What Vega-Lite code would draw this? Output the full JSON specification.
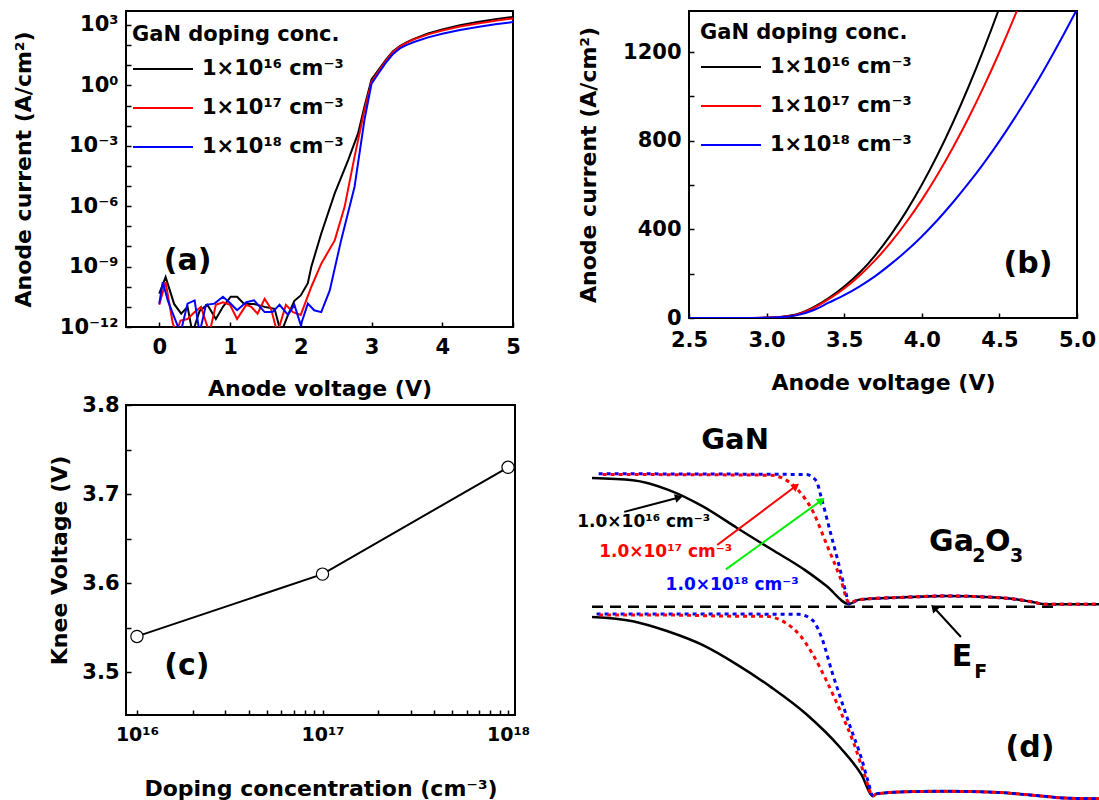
{
  "$schema": "https://vega.github.io/schema/vega-lite/v6.json",
  "background": "white",
  "padding": {"left": 11, "top": 10, "right": 0, "bottom": 0},
  "spacing": 45,
  "resolve": {"scale": {"color": "independent"}, "legend": {"color": "independent"}},
  "datasets": {
    "iv_log": [
      {"d": "1e16", "V": 0, "J": 4.6e-11}, {"d": "1e16", "V": 0.09, "J": 3.0e-10}, {"d": "1e16", "V": 0.21, "J": 1.4e-11}, {"d": "1e16", "V": 0.31, "J": 4.6e-12}, {"d": "1e16", "V": 0.4, "J": 1.0e-11}, {"d": "1e16", "V": 0.47, "J": 5e-13}, {"d": "1e16", "V": 0.57, "J": 6.3e-12}, {"d": "1e16", "V": 0.68, "J": 1.26e-11}, {"d": "1e16", "V": 0.8, "J": 2.5e-12}, {"d": "1e16", "V": 0.9, "J": 1.0e-11}, {"d": "1e16", "V": 1.01, "J": 3.2e-11}, {"d": "1e16", "V": 1.1, "J": 3.2e-11}, {"d": "1e16", "V": 1.2, "J": 1.4e-11}, {"d": "1e16", "V": 1.34, "J": 1.4e-11}, {"d": "1e16", "V": 1.49, "J": 1.0e-11}, {"d": "1e16", "V": 1.63, "J": 8e-12}, {"d": "1e16", "V": 1.72, "J": 5e-13}, {"d": "1e16", "V": 1.82, "J": 4e-12}, {"d": "1e16", "V": 1.91, "J": 2e-11}, {"d": "1e16", "V": 2.0, "J": 3.7e-11}, {"d": "1e16", "V": 2.1, "J": 1.5e-10}, {"d": "1e16", "V": 2.15, "J": 1e-9}, {"d": "1e16", "V": 2.29, "J": 4.4e-8}, {"d": "1e16", "V": 2.48, "J": 4.3e-6}, {"d": "1e16", "V": 2.67, "J": 1.95e-4}, {"d": "1e16", "V": 2.81, "J": 4.1e-3}, {"d": "1e16", "V": 2.9, "J": 8.7e-2}, {"d": "1e16", "V": 3.0, "J": 2}, {"d": "1e16", "V": 3.1, "J": 6}, {"d": "1e16", "V": 3.2, "J": 18}, {"d": "1e16", "V": 3.3, "J": 48}, {"d": "1e16", "V": 3.4, "J": 90}, {"d": "1e16", "V": 3.5, "J": 142}, {"d": "1e16", "V": 3.6, "J": 205}, {"d": "1e16", "V": 3.8, "J": 375}, {"d": "1e16", "V": 4.0, "J": 601}, {"d": "1e16", "V": 4.25, "J": 960}, {"d": "1e16", "V": 4.5, "J": 1400}, {"d": "1e16", "V": 4.75, "J": 1950}, {"d": "1e16", "V": 5.0, "J": 2530},
      {"d": "1e17", "V": 0, "J": 1.26e-11}, {"d": "1e17", "V": 0.09, "J": 1.7e-10}, {"d": "1e17", "V": 0.19, "J": 1.6e-12}, {"d": "1e17", "V": 0.24, "J": 5e-13}, {"d": "1e17", "V": 0.3, "J": 2.1e-12}, {"d": "1e17", "V": 0.4, "J": 2.5e-12}, {"d": "1e17", "V": 0.5, "J": 5.5e-12}, {"d": "1e17", "V": 0.59, "J": 1e-11}, {"d": "1e17", "V": 0.71, "J": 5e-13}, {"d": "1e17", "V": 0.8, "J": 1.26e-11}, {"d": "1e17", "V": 0.9, "J": 1.7e-11}, {"d": "1e17", "V": 1.0, "J": 1.26e-11}, {"d": "1e17", "V": 1.1, "J": 2.5e-12}, {"d": "1e17", "V": 1.23, "J": 1.26e-11}, {"d": "1e17", "V": 1.3, "J": 1e-11}, {"d": "1e17", "V": 1.39, "J": 4.6e-12}, {"d": "1e17", "V": 1.49, "J": 2.5e-11}, {"d": "1e17", "V": 1.58, "J": 8e-12}, {"d": "1e17", "V": 1.67, "J": 5e-13}, {"d": "1e17", "V": 1.79, "J": 1.26e-11}, {"d": "1e17", "V": 1.89, "J": 5.5e-12}, {"d": "1e17", "V": 2.0, "J": 4e-12}, {"d": "1e17", "V": 2.15, "J": 1e-10}, {"d": "1e17", "V": 2.29, "J": 1.4e-9}, {"d": "1e17", "V": 2.48, "J": 2e-8}, {"d": "1e17", "V": 2.62, "J": 9.3e-7}, {"d": "1e17", "V": 2.76, "J": 2.8e-4}, {"d": "1e17", "V": 2.9, "J": 5.9e-2}, {"d": "1e17", "V": 3.0, "J": 1.5}, {"d": "1e17", "V": 3.1, "J": 5}, {"d": "1e17", "V": 3.2, "J": 16}, {"d": "1e17", "V": 3.3, "J": 44}, {"d": "1e17", "V": 3.4, "J": 85}, {"d": "1e17", "V": 3.5, "J": 133}, {"d": "1e17", "V": 3.6, "J": 192}, {"d": "1e17", "V": 3.8, "J": 341}, {"d": "1e17", "V": 4.0, "J": 533}, {"d": "1e17", "V": 4.25, "J": 833}, {"d": "1e17", "V": 4.5, "J": 1199}, {"d": "1e17", "V": 4.75, "J": 1630}, {"d": "1e17", "V": 5.0, "J": 2130},
      {"d": "1e18", "V": 0, "J": 1.45e-11}, {"d": "1e18", "V": 0.05, "J": 1.7e-10}, {"d": "1e18", "V": 0.12, "J": 2.1e-11}, {"d": "1e18", "V": 0.21, "J": 3.2e-12}, {"d": "1e18", "V": 0.3, "J": 5e-13}, {"d": "1e18", "V": 0.4, "J": 1.45e-11}, {"d": "1e18", "V": 0.5, "J": 2.1e-11}, {"d": "1e18", "V": 0.57, "J": 5e-13}, {"d": "1e18", "V": 0.66, "J": 1.26e-11}, {"d": "1e18", "V": 0.78, "J": 1.45e-11}, {"d": "1e18", "V": 0.9, "J": 3.2e-11}, {"d": "1e18", "V": 0.99, "J": 1.7e-11}, {"d": "1e18", "V": 1.1, "J": 6.8e-12}, {"d": "1e18", "V": 1.23, "J": 1.7e-11}, {"d": "1e18", "V": 1.34, "J": 2.1e-11}, {"d": "1e18", "V": 1.49, "J": 5.5e-12}, {"d": "1e18", "V": 1.6, "J": 5.5e-12}, {"d": "1e18", "V": 1.7, "J": 1.26e-11}, {"d": "1e18", "V": 1.82, "J": 4e-12}, {"d": "1e18", "V": 1.91, "J": 1.26e-11}, {"d": "1e18", "V": 2.0, "J": 1.26e-12}, {"d": "1e18", "V": 2.1, "J": 1.45e-11}, {"d": "1e18", "V": 2.19, "J": 6.8e-12}, {"d": "1e18", "V": 2.29, "J": 5.5e-12}, {"d": "1e18", "V": 2.41, "J": 6.6e-11}, {"d": "1e18", "V": 2.57, "J": 2e-8}, {"d": "1e18", "V": 2.76, "J": 9e-6}, {"d": "1e18", "V": 2.9, "J": 1.9e-2}, {"d": "1e18", "V": 3.0, "J": 1.2}, {"d": "1e18", "V": 3.1, "J": 4}, {"d": "1e18", "V": 3.2, "J": 13}, {"d": "1e18", "V": 3.3, "J": 35}, {"d": "1e18", "V": 3.4, "J": 69}, {"d": "1e18", "V": 3.5, "J": 103}, {"d": "1e18", "V": 3.6, "J": 143}, {"d": "1e18", "V": 3.8, "J": 243}, {"d": "1e18", "V": 4.0, "J": 368}, {"d": "1e18", "V": 4.25, "J": 560}, {"d": "1e18", "V": 4.5, "J": 798}, {"d": "1e18", "V": 4.75, "J": 1075}, {"d": "1e18", "V": 5.0, "J": 1393}
    ],
    "iv_lin": [
      {"d": "1e16", "V": 2.5, "J": 0}, {"d": "1e16", "V": 2.6, "J": 0}, {"d": "1e16", "V": 2.7, "J": 0.02}, {"d": "1e16", "V": 2.8, "J": 0.1}, {"d": "1e16", "V": 2.9, "J": 0.5}, {"d": "1e16", "V": 3.0, "J": 2}, {"d": "1e16", "V": 3.1, "J": 6}, {"d": "1e16", "V": 3.2, "J": 18}, {"d": "1e16", "V": 3.3, "J": 48}, {"d": "1e16", "V": 3.4, "J": 90}, {"d": "1e16", "V": 3.5, "J": 142}, {"d": "1e16", "V": 3.6, "J": 205}, {"d": "1e16", "V": 3.7, "J": 283}, {"d": "1e16", "V": 3.8, "J": 375}, {"d": "1e16", "V": 3.9, "J": 481}, {"d": "1e16", "V": 4.0, "J": 601}, {"d": "1e16", "V": 4.1, "J": 734}, {"d": "1e16", "V": 4.2, "J": 881}, {"d": "1e16", "V": 4.3, "J": 1041}, {"d": "1e16", "V": 4.4, "J": 1214}, {"d": "1e16", "V": 4.5, "J": 1400}, {"d": "1e16", "V": 4.6, "J": 1600},
      {"d": "1e17", "V": 2.5, "J": 0}, {"d": "1e17", "V": 2.6, "J": 0}, {"d": "1e17", "V": 2.7, "J": 0.01}, {"d": "1e17", "V": 2.8, "J": 0.05}, {"d": "1e17", "V": 2.9, "J": 0.3}, {"d": "1e17", "V": 3.0, "J": 1.5}, {"d": "1e17", "V": 3.1, "J": 5}, {"d": "1e17", "V": 3.2, "J": 16}, {"d": "1e17", "V": 3.3, "J": 44}, {"d": "1e17", "V": 3.4, "J": 85}, {"d": "1e17", "V": 3.5, "J": 133}, {"d": "1e17", "V": 3.6, "J": 192}, {"d": "1e17", "V": 3.7, "J": 261}, {"d": "1e17", "V": 3.8, "J": 341}, {"d": "1e17", "V": 3.9, "J": 432}, {"d": "1e17", "V": 4.0, "J": 533}, {"d": "1e17", "V": 4.1, "J": 645}, {"d": "1e17", "V": 4.2, "J": 768}, {"d": "1e17", "V": 4.3, "J": 901}, {"d": "1e17", "V": 4.4, "J": 1045}, {"d": "1e17", "V": 4.5, "J": 1199}, {"d": "1e17", "V": 4.6, "J": 1364}, {"d": "1e17", "V": 4.7, "J": 1540},
      {"d": "1e18", "V": 2.5, "J": 0}, {"d": "1e18", "V": 2.6, "J": 0}, {"d": "1e18", "V": 2.7, "J": 0.01}, {"d": "1e18", "V": 2.8, "J": 0.05}, {"d": "1e18", "V": 2.9, "J": 0.3}, {"d": "1e18", "V": 3.0, "J": 1.2}, {"d": "1e18", "V": 3.1, "J": 4}, {"d": "1e18", "V": 3.2, "J": 13}, {"d": "1e18", "V": 3.3, "J": 35}, {"d": "1e18", "V": 3.4, "J": 69}, {"d": "1e18", "V": 3.5, "J": 103}, {"d": "1e18", "V": 3.6, "J": 143}, {"d": "1e18", "V": 3.7, "J": 189}, {"d": "1e18", "V": 3.8, "J": 243}, {"d": "1e18", "V": 3.9, "J": 302}, {"d": "1e18", "V": 4.0, "J": 368}, {"d": "1e18", "V": 4.1, "J": 441}, {"d": "1e18", "V": 4.2, "J": 521}, {"d": "1e18", "V": 4.3, "J": 607}, {"d": "1e18", "V": 4.4, "J": 699}, {"d": "1e18", "V": 4.5, "J": 798}, {"d": "1e18", "V": 4.6, "J": 904}, {"d": "1e18", "V": 4.7, "J": 1016}, {"d": "1e18", "V": 4.8, "J": 1135}, {"d": "1e18", "V": 4.9, "J": 1261}, {"d": "1e18", "V": 5.0, "J": 1393}
    ],
    "knee": [
      {"N": 1e16, "Vk": 3.54}, {"N": 1e17, "Vk": 3.61}, {"N": 1e18, "Vk": 3.73}
    ],
    "band": [
      {"d": "1e16", "b": "CB", "x": 0, "E": 1.78}, {"d": "1e16", "b": "CB", "x": 8.0, "E": 1.75}, {"d": "1e16", "b": "CB", "x": 14.8, "E": 1.62}, {"d": "1e16", "b": "CB", "x": 21.6, "E": 1.39}, {"d": "1e16", "b": "CB", "x": 28.3, "E": 1.09}, {"d": "1e16", "b": "CB", "x": 35.1, "E": 0.79}, {"d": "1e16", "b": "CB", "x": 41.9, "E": 0.49}, {"d": "1e16", "b": "CB", "x": 45.9, "E": 0.28}, {"d": "1e16", "b": "CB", "x": 50.3, "E": 0.03}, {"d": "1e16", "b": "CB", "x": 52.3, "E": 0.09}, {"d": "1e16", "b": "CB", "x": 62.1, "E": 0.125}, {"d": "1e16", "b": "CB", "x": 68.9, "E": 0.14}, {"d": "1e16", "b": "CB", "x": 79.0, "E": 0.12}, {"d": "1e16", "b": "CB", "x": 82.5, "E": 0.1}, {"d": "1e16", "b": "CB", "x": 86.0, "E": 0.06}, {"d": "1e16", "b": "CB", "x": 89.0, "E": 0.024}, {"d": "1e16", "b": "CB", "x": 100, "E": 0.024},
      {"d": "1e18", "b": "CB", "x": 1.3, "E": 1.84}, {"d": "1e18", "b": "CB", "x": 41.9, "E": 1.83}, {"d": "1e18", "b": "CB", "x": 43.9, "E": 1.74}, {"d": "1e18", "b": "CB", "x": 44.9, "E": 1.5}, {"d": "1e18", "b": "CB", "x": 46.6, "E": 1.04}, {"d": "1e18", "b": "CB", "x": 48.3, "E": 0.58}, {"d": "1e18", "b": "CB", "x": 49.6, "E": 0.21}, {"d": "1e18", "b": "CB", "x": 50.3, "E": 0.03}, {"d": "1e18", "b": "CB", "x": 52.3, "E": 0.09}, {"d": "1e18", "b": "CB", "x": 62.1, "E": 0.125}, {"d": "1e18", "b": "CB", "x": 68.9, "E": 0.14}, {"d": "1e18", "b": "CB", "x": 79.0, "E": 0.12}, {"d": "1e18", "b": "CB", "x": 82.5, "E": 0.1}, {"d": "1e18", "b": "CB", "x": 86.0, "E": 0.06}, {"d": "1e18", "b": "CB", "x": 89.0, "E": 0.024}, {"d": "1e18", "b": "CB", "x": 100, "E": 0.024},
      {"d": "1e17", "b": "CB", "x": 1.3, "E": 1.83}, {"d": "1e17", "b": "CB", "x": 35.1, "E": 1.82}, {"d": "1e17", "b": "CB", "x": 37.8, "E": 1.76}, {"d": "1e17", "b": "CB", "x": 40.5, "E": 1.6}, {"d": "1e17", "b": "CB", "x": 43.2, "E": 1.32}, {"d": "1e17", "b": "CB", "x": 45.9, "E": 0.86}, {"d": "1e17", "b": "CB", "x": 48.6, "E": 0.39}, {"d": "1e17", "b": "CB", "x": 50.3, "E": 0.05}, {"d": "1e17", "b": "CB", "x": 52.3, "E": 0.09}, {"d": "1e17", "b": "CB", "x": 62.1, "E": 0.125}, {"d": "1e17", "b": "CB", "x": 68.9, "E": 0.14}, {"d": "1e17", "b": "CB", "x": 79.0, "E": 0.12}, {"d": "1e17", "b": "CB", "x": 82.5, "E": 0.1}, {"d": "1e17", "b": "CB", "x": 86.0, "E": 0.06}, {"d": "1e17", "b": "CB", "x": 89.0, "E": 0.024}, {"d": "1e17", "b": "CB", "x": 100, "E": 0.024},
      {"d": "1e16", "b": "VB", "x": 0, "E": -0.15}, {"d": "1e16", "b": "VB", "x": 8.0, "E": -0.21}, {"d": "1e16", "b": "VB", "x": 14.8, "E": -0.35}, {"d": "1e16", "b": "VB", "x": 21.6, "E": -0.54}, {"d": "1e16", "b": "VB", "x": 28.3, "E": -0.81}, {"d": "1e16", "b": "VB", "x": 35.1, "E": -1.13}, {"d": "1e16", "b": "VB", "x": 41.9, "E": -1.5}, {"d": "1e16", "b": "VB", "x": 48.6, "E": -1.97}, {"d": "1e16", "b": "VB", "x": 52.7, "E": -2.34}, {"d": "1e16", "b": "VB", "x": 55.0, "E": -2.64}, {"d": "1e16", "b": "VB", "x": 55.7, "E": -2.61}, {"d": "1e16", "b": "VB", "x": 62.1, "E": -2.58}, {"d": "1e16", "b": "VB", "x": 68.9, "E": -2.575}, {"d": "1e16", "b": "VB", "x": 79.0, "E": -2.59}, {"d": "1e16", "b": "VB", "x": 87.8, "E": -2.64}, {"d": "1e16", "b": "VB", "x": 92.6, "E": -2.67}, {"d": "1e16", "b": "VB", "x": 100, "E": -2.68},
      {"d": "1e17", "b": "VB", "x": 0.6, "E": -0.125}, {"d": "1e17", "b": "VB", "x": 14.8, "E": -0.125}, {"d": "1e17", "b": "VB", "x": 28.3, "E": -0.14}, {"d": "1e17", "b": "VB", "x": 33.7, "E": -0.14}, {"d": "1e17", "b": "VB", "x": 37.8, "E": -0.23}, {"d": "1e17", "b": "VB", "x": 40.5, "E": -0.39}, {"d": "1e17", "b": "VB", "x": 43.2, "E": -0.67}, {"d": "1e17", "b": "VB", "x": 45.9, "E": -1.04}, {"d": "1e17", "b": "VB", "x": 48.6, "E": -1.46}, {"d": "1e17", "b": "VB", "x": 51.3, "E": -1.92}, {"d": "1e17", "b": "VB", "x": 53.3, "E": -2.34}, {"d": "1e17", "b": "VB", "x": 55.0, "E": -2.64}, {"d": "1e17", "b": "VB", "x": 55.7, "E": -2.61}, {"d": "1e17", "b": "VB", "x": 62.1, "E": -2.58}, {"d": "1e17", "b": "VB", "x": 68.9, "E": -2.575}, {"d": "1e17", "b": "VB", "x": 79.0, "E": -2.59}, {"d": "1e17", "b": "VB", "x": 87.8, "E": -2.64}, {"d": "1e17", "b": "VB", "x": 92.6, "E": -2.67}, {"d": "1e17", "b": "VB", "x": 100, "E": -2.68},
      {"d": "1e18", "b": "VB", "x": 0.9, "E": -0.11}, {"d": "1e18", "b": "VB", "x": 21.6, "E": -0.11}, {"d": "1e18", "b": "VB", "x": 40.5, "E": -0.115}, {"d": "1e18", "b": "VB", "x": 43.2, "E": -0.2}, {"d": "1e18", "b": "VB", "x": 45.2, "E": -0.49}, {"d": "1e18", "b": "VB", "x": 46.9, "E": -0.9}, {"d": "1e18", "b": "VB", "x": 48.6, "E": -1.27}, {"d": "1e18", "b": "VB", "x": 50.6, "E": -1.69}, {"d": "1e18", "b": "VB", "x": 52.7, "E": -2.11}, {"d": "1e18", "b": "VB", "x": 54.0, "E": -2.43}, {"d": "1e18", "b": "VB", "x": 55.0, "E": -2.64}, {"d": "1e18", "b": "VB", "x": 55.7, "E": -2.61}, {"d": "1e18", "b": "VB", "x": 62.1, "E": -2.58}, {"d": "1e18", "b": "VB", "x": 68.9, "E": -2.575}, {"d": "1e18", "b": "VB", "x": 79.0, "E": -2.59}, {"d": "1e18", "b": "VB", "x": 87.8, "E": -2.64}, {"d": "1e18", "b": "VB", "x": 92.6, "E": -2.67}, {"d": "1e18", "b": "VB", "x": 100, "E": -2.68}
    ],
    "fermi": [{"x": 0, "E": -0.01}, {"x": 91, "E": -0.01}],
    "arrows": [
      {"id": "a16", "x": 6.3, "E": 1.31, "x2": 17.0, "E2": 1.51},
      {"id": "a17", "x": 24.5, "E": 0.85, "x2": 39.9, "E2": 1.67},
      {"id": "a18", "x": 26.2, "E": 0.51, "x2": 44.9, "E2": 1.47},
      {"id": "aEF", "x": 72.2, "E": -0.43, "x2": 66.9, "E2": -0.02}
    ],
    "dlabels": [
      {"d": "1e16", "t": "1.0×10¹⁶ cm⁻³", "x": -2.9, "E": 1.1},
      {"d": "1e17", "t": "1.0×10¹⁷ cm⁻³", "x": 1.4, "E": 0.68},
      {"d": "1e18", "t": "1.0×10¹⁸ cm⁻³", "x": 14.4, "E": 0.22}
    ],
    "bigtext": [
      {"t": "GaN", "x": 28.0, "E": 2.18, "a": "c"},
      {"t": "Ga", "x": 65.95, "E": 0.764, "a": "l"},
      {"t": "O", "x": 76.9, "E": 0.764, "a": "l"},
      {"t": "E", "x": 70.4, "E": -0.83, "a": "l"}
    ],
    "subtext": [
      {"t": "2", "x": 74.4, "E": 0.611},
      {"t": "3", "x": 81.8, "E": 0.611},
      {"t": "F", "x": 74.8, "E": -1.0}
    ]
  },
  "hconcat": [
    {
      "vconcat": [
        {
          "width": 387,
          "height": 316,
          "layer": [
            {
              "data": {"name": "iv_log"},
              "mark": {"type": "line", "strokeWidth": 2, "clip": true},
              "encoding": {
                "x": {"field": "V", "type": "quantitative", "scale": {"domain": [-0.47, 5], "nice": false, "zero": false},
                  "axis": {"values": [0, 0.5, 1, 1.5, 2, 2.5, 3, 3.5, 4, 4.5, 5], "labelExpr": "datum.value % 1 == 0 ? format(datum.value, 'd') : ''", "title": "Anode voltage (V)", "titleY": 68, "titleBaseline": "alphabetic", "labelPadding": 14}},
                "y": {"field": "J", "type": "quantitative", "scale": {"type": "log", "domain": [1e-12, 4950], "nice": false},
                  "axis": {"values": [1e-12, 1e-11, 1e-10, 1e-9, 1e-8, 1e-7, 1e-6, 1e-5, 1e-4, 1e-3, 1e-2, 1e-1, 1, 10, 100, 1000], "labelExpr": "round(log(datum.value)/LN10) == -12 ? '10⁻¹²' : round(log(datum.value)/LN10) == -9 ? '10⁻⁹' : round(log(datum.value)/LN10) == -6 ? '10⁻⁶' : round(log(datum.value)/LN10) == -3 ? '10⁻³' : round(log(datum.value)/LN10) == 0 ? '10⁰' : round(log(datum.value)/LN10) == 3 ? '10³' : ''", "title": "Anode current (A/cm²)", "titleX": -91, "labelPadding": 13}},
                "color": {"field": "d", "type": "nominal", "scale": {"domain": ["1e16", "1e17", "1e18"], "range": ["#000000", "#ff0000", "#0000ff"]},
                  "legend": {"title": "GaN doping conc.", "orient": "none", "legendX": 6, "legendY": 13, "labelExpr": "datum.label == '1e16' ? '1×10¹⁶ cm⁻³' : datum.label == '1e17' ? '1×10¹⁷ cm⁻³' : '1×10¹⁸ cm⁻³'"}}
              }
            },
            {
              "data": {"values": [{"t": "(a)", "V": 0.4, "J": 6.8e-10}]},
              "mark": {"type": "text", "fontSize": 30, "align": "center", "baseline": "alphabetic"},
              "encoding": {"x": {"field": "V", "type": "quantitative"}, "y": {"field": "J", "type": "quantitative"}, "text": {"field": "t"}}
            }
          ]
        },
        {
          "width": 389,
          "height": 310,
          "data": {"name": "knee"},
          "encoding": {
            "x": {"field": "N", "type": "quantitative", "scale": {"type": "log", "domain": [8.73e15, 1.09e18], "nice": false},
              "axis": {"values": [1e16, 2e16, 3e16, 4e16, 5e16, 6e16, 7e16, 8e16, 9e16, 1e17, 2e17, 3e17, 4e17, 5e17, 6e17, 7e17, 8e17, 9e17, 1e18], "labelExpr": "datum.value == 1e16 ? '10¹⁶' : datum.value == 1e17 ? '10¹⁷' : datum.value == 1e18 ? '10¹⁸' : ''", "title": "Doping concentration (cm⁻³)", "titleY": 80, "titleBaseline": "alphabetic", "labelPadding": 15, "labelFontSize": 19}},
            "y": {"field": "Vk", "type": "quantitative", "scale": {"domain": [3.4517, 3.8], "nice": false, "zero": false},
              "axis": {"values": [3.5, 3.55, 3.6, 3.65, 3.7, 3.75, 3.8], "labelExpr": "abs(datum.value * 10 - round(datum.value * 10)) < 0.001 ? format(datum.value, '.1f') : ''", "title": "Knee Voltage (V)", "titleX": -55, "labelPadding": 12}}
          },
          "layer": [
            {"mark": {"type": "line", "color": "#000000", "strokeWidth": 2}},
            {"mark": {"type": "point", "shape": "circle", "filled": true, "fill": "#ffffff", "stroke": "#000000", "strokeWidth": 1.2, "size": 150, "opacity": 1}},
            {
              "data": {"values": [{"t": "(c)", "N": 1.86e16, "Vk": 3.4966}]},
              "mark": {"type": "text", "fontSize": 30, "align": "center", "baseline": "alphabetic"},
              "encoding": {"text": {"field": "t"}}
            }
          ]
        }
      ],
      "spacing": -7
    },
    {
      "vconcat": [
        {
          "width": 388,
          "height": 307,
          "layer": [
            {
              "data": {"name": "iv_lin"},
              "mark": {"type": "line", "strokeWidth": 2, "clip": true, "interpolate": "monotone"},
              "encoding": {
                "x": {"field": "V", "type": "quantitative", "scale": {"domain": [2.5, 5], "nice": false, "zero": false},
                  "axis": {"values": [2.5, 2.75, 3, 3.25, 3.5, 3.75, 4, 4.25, 4.5, 4.75, 5], "labelExpr": "(datum.value * 4) % 2 == 0 ? format(datum.value, '.1f') : ''", "title": "Anode voltage (V)", "titleY": 71, "titleBaseline": "alphabetic", "labelPadding": 16}},
                "y": {"field": "J", "type": "quantitative", "scale": {"domain": [0, 1385], "nice": false},
                  "axis": {"values": [0, 200, 400, 600, 800, 1000, 1200], "labelExpr": "datum.value % 400 == 0 ? format(datum.value, 'd') : ''", "title": "Anode current (A/cm²)", "titleX": -89, "labelPadding": 13}},
                "color": {"field": "d", "type": "nominal", "scale": {"domain": ["1e16", "1e17", "1e18"], "range": ["#000000", "#ff0000", "#0000ff"]},
                  "legend": {"title": "GaN doping conc.", "orient": "none", "legendX": 11, "legendY": 11, "labelExpr": "datum.label == '1e16' ? '1×10¹⁶ cm⁻³' : datum.label == '1e17' ? '1×10¹⁷ cm⁻³' : '1×10¹⁸ cm⁻³'"}}
              }
            },
            {
              "data": {"values": [{"t": "(b)", "V": 4.684, "J": 203}]},
              "mark": {"type": "text", "fontSize": 30, "align": "center", "baseline": "alphabetic"},
              "encoding": {"x": {"field": "V", "type": "quantitative"}, "y": {"field": "J", "type": "quantitative"}, "text": {"field": "t"}}
            }
          ]
        },
        {
          "width": 414,
          "height": 397,
          "view": {"stroke": null},
          "encoding": {
            "x": {"field": "x", "type": "quantitative", "scale": {"domain": [18.98, 100], "nice": false, "zero": false}, "axis": null},
            "y": {"field": "E", "type": "quantitative", "scale": {"domain": [-2.71, 2.81], "nice": false, "zero": false}, "axis": null}
          },
          "layer": [
            {
              "data": {"name": "fermi"},
              "mark": {"type": "line", "color": "#000000", "strokeWidth": 2.5, "strokeDash": [11, 7]}
            },
            {
              "data": {"name": "band"},
              "transform": [{"filter": "datum.d == '1e16'"}],
              "mark": {"type": "line", "strokeWidth": 2.5, "interpolate": "monotone"},
              "encoding": {"detail": {"field": "b"}, "color": {"field": "d", "type": "nominal", "scale": {"domain": ["1e16", "1e17", "1e18"], "range": ["#000000", "#ff0000", "#0000ff"]}, "legend": null}}
            },
            {
              "data": {"name": "band"},
              "transform": [{"filter": "datum.d == '1e18'"}],
              "mark": {"type": "line", "strokeWidth": 3, "interpolate": "monotone", "strokeDash": [4, 4]},
              "encoding": {"detail": {"field": "b"}, "color": {"field": "d", "type": "nominal", "legend": null}}
            },
            {
              "data": {"name": "band"},
              "transform": [{"filter": "datum.d == '1e17'"}],
              "mark": {"type": "line", "strokeWidth": 3, "interpolate": "monotone", "strokeDash": [4, 4], "strokeDashOffset": 4},
              "encoding": {"detail": {"field": "b"}, "color": {"field": "d", "type": "nominal", "legend": null}}
            },
            {
              "data": {"name": "arrows"},
              "mark": {"type": "rule", "strokeWidth": 2},
              "encoding": {
                "x2": {"field": "x2"}, "y2": {"field": "E2"},
                "stroke": {"field": "id", "type": "nominal", "scale": {"domain": ["a16", "a17", "a18", "aEF"], "range": ["#000000", "#ff0000", "#00ee00", "#000000"]}, "legend": null}
              }
            },
            {
              "data": {"name": "arrows"},
              "transform": [{"filter": "datum.id == 'a16'"}],
              "mark": {"type": "point", "shape": "triangle-right", "filled": true, "color": "#000000", "size": 80, "angle": -15, "opacity": 1},
              "encoding": {"x": {"field": "x2", "type": "quantitative"}, "y": {"field": "E2", "type": "quantitative"}}
            },
            {
              "data": {"name": "arrows"},
              "transform": [{"filter": "datum.id == 'a17'"}],
              "mark": {"type": "point", "shape": "triangle-right", "filled": true, "color": "#ff0000", "size": 80, "angle": -37, "opacity": 1},
              "encoding": {"x": {"field": "x2", "type": "quantitative"}, "y": {"field": "E2", "type": "quantitative"}}
            },
            {
              "data": {"name": "arrows"},
              "transform": [{"filter": "datum.id == 'a18'"}],
              "mark": {"type": "point", "shape": "triangle-right", "filled": true, "color": "#00ee00", "size": 80, "angle": -36, "opacity": 1},
              "encoding": {"x": {"field": "x2", "type": "quantitative"}, "y": {"field": "E2", "type": "quantitative"}}
            },
            {
              "data": {"name": "arrows"},
              "transform": [{"filter": "datum.id == 'aEF'"}],
              "mark": {"type": "point", "shape": "triangle-right", "filled": true, "color": "#000000", "size": 80, "angle": -132, "opacity": 1},
              "encoding": {"x": {"field": "x2", "type": "quantitative"}, "y": {"field": "E2", "type": "quantitative"}}
            },
            {
              "data": {"name": "dlabels"},
              "mark": {"type": "text", "fontSize": 17, "align": "left", "baseline": "alphabetic"},
              "encoding": {"text": {"field": "t"}, "color": {"field": "d", "type": "nominal", "legend": null}}
            },
            {
              "data": {"name": "bigtext"},
              "transform": [{"filter": "datum.a == 'c'"}],
              "mark": {"type": "text", "fontSize": 29, "align": "center", "baseline": "alphabetic"},
              "encoding": {"text": {"field": "t"}}
            },
            {
              "data": {"name": "bigtext"},
              "transform": [{"filter": "datum.a == 'l'"}],
              "mark": {"type": "text", "fontSize": 30, "align": "left", "baseline": "alphabetic"},
              "encoding": {"text": {"field": "t"}}
            },
            {
              "data": {"name": "subtext"},
              "mark": {"type": "text", "fontSize": 19, "align": "left", "baseline": "alphabetic"},
              "encoding": {"text": {"field": "t"}}
            },
            {
              "data": {"values": [{"t": "(d)", "x": 85.7, "E": -2.1}]},
              "mark": {"type": "text", "fontSize": 30, "align": "center", "baseline": "alphabetic"},
              "encoding": {"text": {"field": "t"}}
            }
          ]
        }
      ],
      "spacing": 10,
      "resolve": {"scale": {"color": "independent"}, "legend": {"color": "independent"}}
    }
  ],
  "config": {
    "font": "DejaVu Sans",
    "view": {"stroke": "#000000", "strokeWidth": 2},
    "axis": {
      "grid": false, "domain": false, "ticks": true, "tickColor": "#000000", "tickWidth": 1.5, "tickSize": -5,
      "labelFont": "DejaVu Sans", "labelFontWeight": "bold", "labelColor": "#000000", "labelFontSize": 21,
      "titleFont": "DejaVu Sans", "titleFontWeight": "bold", "titleColor": "#000000", "titleFontSize": 22,
      "labelOverlap": false, "labelBound": false, "labelFlush": false
    },
    "legend": {
      "titleFont": "DejaVu Sans", "titleFontSize": 21, "titleFontWeight": "bold", "titleColor": "#000000", "titlePadding": 12, "titleLimit": 400,
      "labelFont": "DejaVu Sans", "labelFontSize": 21, "labelFontWeight": "bold", "labelColor": "#000000", "labelLimit": 300,
      "symbolType": "stroke", "symbolSize": 3600, "symbolStrokeWidth": 2, "clipHeight": 24, "rowPadding": 15, "labelOffset": 8, "padding": 0
    },
    "text": {"font": "DejaVu Sans", "fontWeight": "bold", "color": "#000000"}
  }
}
